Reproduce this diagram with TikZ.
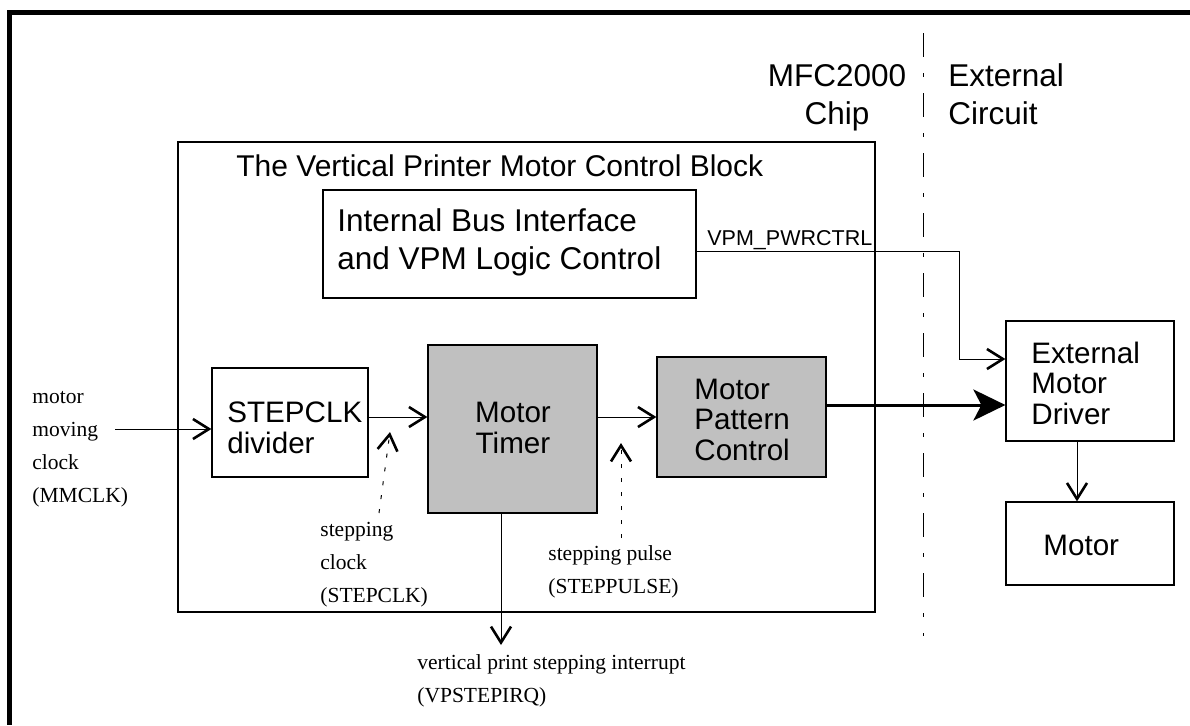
\documentclass[tikz,border=0pt]{standalone}
\usepackage{fontspec}
\setmainfont{Liberation Serif}
\setsansfont{Liberation Sans}
\usepackage{xcolor}
\usepackage{tikz}
\usetikzlibrary{arrows.meta,positioning}
\definecolor{blockgray}{RGB}{192,192,192}

\begin{document}
\begin{tikzpicture}[x=0.5pt, y=-0.5pt,
    box/.style={draw, line width=0.6pt, inner sep=0pt},
    shaded/.style={box, fill=blockgray},
    bigtext/.style={font=\sffamily\fontsize{15.75}{18.75}\selectfont, inner sep=0pt, align=left},
    titletext/.style={font=\sffamily\fontsize{15}{18}\selectfont, inner sep=0pt},
    boxtext/.style={font=\sffamily\fontsize{14.8}{15.2}\selectfont, inner sep=0pt, align=left},
    sigtext/.style={font=\sffamily\fontsize{10.75}{13}\selectfont, inner sep=0pt},
    note/.style={font=\fontsize{10.75}{16.5}\selectfont, inner sep=0pt, align=left},
    arr/.style={line width=0.5pt, -{Straight Barb[length=8pt,width=10pt,line width=1.3pt]}},
    dotarr/.style={arr, dash pattern=on 2pt off 5pt},
    fatarr/.style={line width=1.5pt, -{Stealth[length=16pt,width=15.5pt,inset=4pt]}}
]
\useasboundingbox (0,0) rectangle (1190,725);
\draw[line width=2.2pt] (1190,12.5) -| (9.5,725);
\draw[line width=0.5pt, dash pattern=on 12pt off 8pt on 2pt off 8pt] (923,33) -- (923,636);

\node[bigtext, anchor=base, align=center] (chip) at (837,124) {MFC2000\\Chip};
\node[bigtext, anchor=base west] (extc) at (948,124) {External\\Circuit};

\node[box, minimum width=348.5pt, minimum height=235pt] (vpm) at (526.5,377) {};
\node[titletext, anchor=base west] (vpmtitle) at (236,176) {The Vertical Printer Motor Control Block};

\node[box, minimum width=186.5pt, minimum height=54pt] (bus) at (509.5,244) {};
\node[bigtext, anchor=base west] (bustext) at (337,269) {Internal Bus Interface\\and VPM Logic Control};

\node[box, minimum width=78pt, minimum height=54.5pt] (div) at (290,422.5) {};
\node[boxtext, anchor=base west] (divtext) at (227,453) {STEPCLK\\divider};

\node[shaded, minimum width=84.5pt, minimum height=84pt] (timer) at (512.5,429) {};
\node[boxtext, anchor=base, align=center] (timertext) at (513,453) {Motor\\Timer};

\node[shaded, minimum width=84.5pt, minimum height=60pt] (mpc) at (741.5,417) {};
\node[boxtext, anchor=base west] (mpctext) at (694,460) {Motor\\Pattern\\Control};

\node[box, minimum width=84pt, minimum height=60pt] (emd) at (1090,381) {};
\node[boxtext, anchor=base west] (emdtext) at (1031,424) {External\\Motor\\Driver};

\node[box, minimum width=84pt, minimum height=41.5pt] (motor) at (1090,543.5) {};
\node[boxtext, anchor=base west] (motortext) at (1043,555) {Motor};

\node[note, anchor=base west] (mmclk) at (32,502) {motor\\moving\\clock\\(MMCLK)};
\node[note, anchor=base west] (stepclk) at (320,602) {stepping\\clock\\(STEPCLK)};
\node[note, anchor=base west] (steppulse) at (548,593) {stepping pulse\\(STEPPULSE)};
\node[note, anchor=base west] (irqtext) at (417,702) {vertical print stepping interrupt\\(VPSTEPIRQ)};
\node[sigtext, anchor=base west] (pwrtext) at (707,245) {VPM\_PWRCTRL};

\coordinate (clkin) at (115,429);
\coordinate (pwrbend) at (959,251);
\coordinate (irq) at (501,645);
\coordinate (clkfoot) at (379,513);
\coordinate (clktip) at (390,432);
\coordinate (pulfoot) at (621,538);
\coordinate (pultip) at (621,443);

\draw[arr] (clkin) -- (clkin -| div.west);
\draw[arr] (div.east |- mpc) -- (timer.west |- mpc);
\draw[arr] (timer.east |- mpc) -- (mpc.west);
\draw[fatarr] ([yshift=6pt]mpc.east) -- ([yshift=6pt]mpc.east -| emd.west);
\draw[arr] ([yshift=-3.5pt]bus.east) -- (pwrbend) |- ([yshift=11pt]emd.west);
\draw[arr] ([xshift=-6.5pt]emd.south) -- ([xshift=-6.5pt]emd.south |- motor.north);
\draw[arr] (irq |- timer.south) -- (irq);
\draw[dotarr] (clkfoot) -- (clktip);
\draw[dotarr] (pulfoot) -- (pultip);
\end{tikzpicture}
\end{document}
